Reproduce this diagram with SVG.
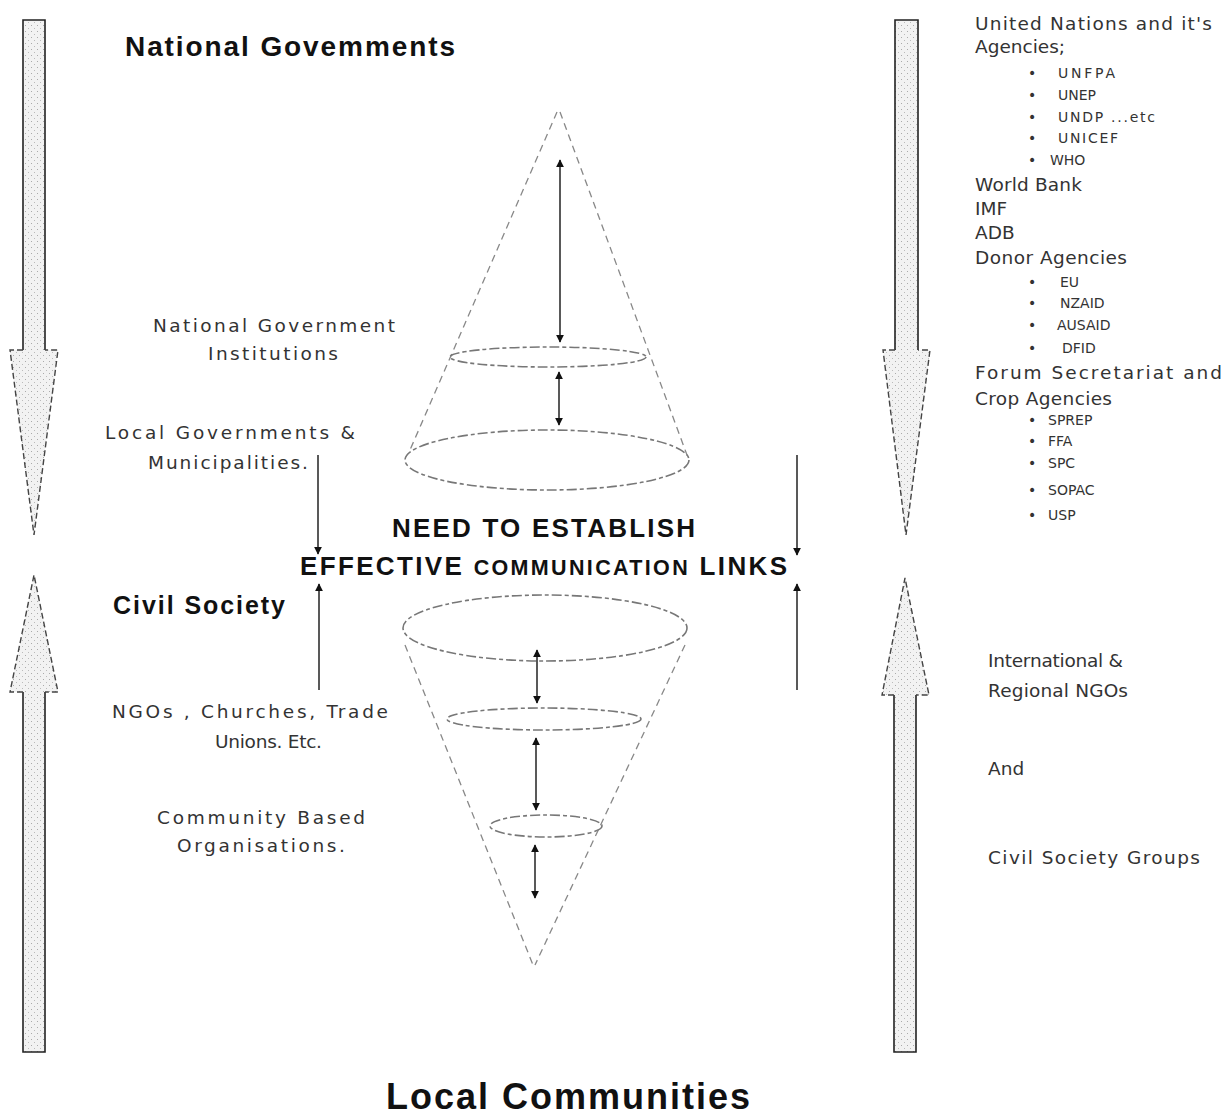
<svg xmlns="http://www.w3.org/2000/svg" width="1226" height="1120" viewBox="0 0 1226 1120">
<style>
  .bg{fill:#ffffff}
  .big{font-family:"Liberation Sans",Arial,sans-serif;font-weight:bold;fill:#111}
  .txt{font-family:"DejaVu Sans",Verdana,sans-serif;fill:#333;font-size:18.5px}
  .sm{font-family:"DejaVu Sans",Verdana,sans-serif;fill:#333;font-size:14px}
  .fat{fill:none;stroke:#222;stroke-width:1.6}
  .head{fill:url(#stipple);stroke:#444;stroke-width:1.4;stroke-dasharray:6 3}
  .cone{fill:none;stroke:#888;stroke-width:1.3;stroke-dasharray:7 5}
  .ring{fill:none;stroke:#777;stroke-width:1.6;stroke-dasharray:10 3 4 3}
  .link{stroke:#222;stroke-width:1.5;fill:none}
</style>
<defs>
  <pattern id="stipple" width="6" height="6" patternUnits="userSpaceOnUse">
    <rect width="6" height="6" fill="#f2f2f2"/>
    <rect x="1" y="1" width="1" height="1" fill="#aaa"/>
    <rect x="4" y="4" width="1" height="1" fill="#bbb"/>
  </pattern>
  <marker id="ah" viewBox="0 0 10 10" refX="9" refY="5" markerWidth="8" markerHeight="8" orient="auto-start-reverse" markerUnits="userSpaceOnUse">
    <path d="M0,0 L10,5 L0,10 Z" fill="#111"/>
  </marker>
</defs>
<rect class="bg" width="1226" height="1120"/>

<g id="arrow-left-down">
  <rect x="23" y="20" width="22" height="330" fill="url(#stipple)"/>
  <path class="fat" d="M23,350 V20 H45 V350"/>
  <path class="head" d="M23,350 H10 L34,535 L58,350 H45"/>
</g>
<g id="arrow-left-up">
  <rect x="23" y="692" width="22" height="360" fill="url(#stipple)"/>
  <path class="fat" d="M23,692 V1052 H45 V692"/>
  <path class="head" d="M23,692 H10 L34,575 L58,692 H45"/>
</g>
<g id="arrow-right-down">
  <rect x="895" y="20" width="23" height="330" fill="url(#stipple)"/>
  <path class="fat" d="M895,350 V20 H918 V350"/>
  <path class="head" d="M895,350 H883 L906,535 L930,350 H918"/>
</g>
<g id="arrow-right-up">
  <rect x="894" y="695" width="22" height="357" fill="url(#stipple)"/>
  <path class="fat" d="M894,695 V1052 H916 V695"/>
  <path class="head" d="M894,695 H882 L905,578 L929,695 H916"/>
</g>

<g id="cone-top">
  <line class="cone" x1="557" y1="112" x2="410" y2="450"/>
  <line class="cone" x1="560" y1="112" x2="687" y2="455"/>
  <ellipse class="ring" cx="548" cy="357" rx="98" ry="10"/>
  <ellipse class="ring" cx="547" cy="460" rx="142" ry="30"/>
</g>
<g id="cone-bottom">
  <ellipse class="ring" cx="545" cy="628" rx="142" ry="33"/>
  <ellipse class="ring" cx="544" cy="719" rx="97" ry="11"/>
  <ellipse class="ring" cx="546" cy="826" rx="56" ry="11"/>
  <line class="cone" x1="405" y1="645" x2="533" y2="965"/>
  <line class="cone" x1="685" y1="645" x2="535" y2="965"/>
</g>

<g id="connectors">
  <line class="link" x1="560" y1="160" x2="560" y2="342" marker-start="url(#ah)" marker-end="url(#ah)"/>
  <line class="link" x1="559" y1="372" x2="559" y2="425" marker-start="url(#ah)" marker-end="url(#ah)"/>
  <line class="link" x1="537" y1="650" x2="537" y2="703" marker-start="url(#ah)" marker-end="url(#ah)"/>
  <line class="link" x1="536" y1="738" x2="536" y2="810" marker-start="url(#ah)" marker-end="url(#ah)"/>
  <line class="link" x1="535" y1="845" x2="535" y2="898" marker-start="url(#ah)" marker-end="url(#ah)"/>
  <line class="link" x1="318" y1="455" x2="318" y2="554" marker-end="url(#ah)"/>
  <line class="link" x1="319" y1="690" x2="319" y2="584" marker-end="url(#ah)"/>
  <line class="link" x1="797" y1="455" x2="797" y2="555" marker-end="url(#ah)"/>
  <line class="link" x1="797" y1="690" x2="797" y2="584" marker-end="url(#ah)"/>
</g>

<g id="title-national">
  <text class="big" x="125" y="56" font-size="28" textLength="330" lengthAdjust="spacing">National Govemments</text>
</g>
<g id="title-local">
  <text class="big" x="386" y="1109" font-size="36" textLength="364" lengthAdjust="spacing">Local Communities</text>
</g>
<g id="central-message">
  <text class="big" x="392" y="537" font-size="26" textLength="303" lengthAdjust="spacing">NEED TO ESTABLISH</text>
  <text class="big" x="300" y="575" font-size="26" textLength="487" lengthAdjust="spacing">EFFECTIVE <tspan font-size="21.5">COMMUNICATION</tspan> LINKS</text>
</g>
<g id="label-national-institutions">
  <text class="txt" x="153" y="332" textLength="242" lengthAdjust="spacing">National Government</text>
  <text class="txt" x="208" y="360" textLength="130" lengthAdjust="spacing">Institutions</text>
</g>
<g id="label-local-gov">
  <text class="txt" x="105" y="439" textLength="250" lengthAdjust="spacing">Local Governments &amp;</text>
  <text class="txt" x="148" y="469" textLength="160" lengthAdjust="spacing">Municipalities.</text>
</g>
<g id="label-civil-society">
  <text class="big" x="113" y="614" font-size="25" textLength="172" lengthAdjust="spacing">Civil Society</text>
</g>
<g id="label-ngos">
  <text class="txt" x="112" y="718" textLength="276" lengthAdjust="spacing">NGOs , Churches, Trade</text>
  <text class="txt" x="215" y="748" textLength="107" lengthAdjust="spacing">Unions. Etc.</text>
</g>
<g id="label-cbo">
  <text class="txt" x="157" y="824" textLength="208" lengthAdjust="spacing">Community Based</text>
  <text class="txt" x="177" y="852" textLength="168" lengthAdjust="spacing">Organisations.</text>
</g>
<g id="list-international">
  <text class="txt" x="975" y="30" textLength="237" lengthAdjust="spacing">United Nations and it's</text>
  <text class="txt" x="975" y="53" textLength="90" lengthAdjust="spacing">Agencies;</text>
  <g class="sm">
    <text x="1028" y="78">•</text><text x="1058" y="78" textLength="57" lengthAdjust="spacing">UNFPA</text>
    <text x="1028" y="100">•</text><text x="1058" y="100">UNEP</text>
    <text x="1028" y="122">•</text><text x="1058" y="122" textLength="97" lengthAdjust="spacing">UNDP ...etc</text>
    <text x="1028" y="143">•</text><text x="1058" y="143" textLength="60" lengthAdjust="spacing">UNICEF</text>
    <text x="1028" y="165">•</text><text x="1050" y="165">WHO</text>
  </g>
  <text class="txt" x="975" y="191" textLength="107" lengthAdjust="spacing">World Bank</text>
  <text class="txt" x="975" y="215">IMF</text>
  <text class="txt" x="975" y="239">ADB</text>
  <text class="txt" x="975" y="264" textLength="152" lengthAdjust="spacing">Donor Agencies</text>
  <g class="sm">
    <text x="1028" y="287">•</text><text x="1060" y="287">EU</text>
    <text x="1028" y="308">•</text><text x="1060" y="308">NZAID</text>
    <text x="1028" y="330">•</text><text x="1057" y="330">AUSAID</text>
    <text x="1028" y="353">•</text><text x="1062" y="353">DFID</text>
  </g>
  <text class="txt" x="975" y="379" textLength="247" lengthAdjust="spacing">Forum Secretariat  and</text>
  <text class="txt" x="975" y="405" textLength="137" lengthAdjust="spacing">Crop Agencies</text>
  <g class="sm">
    <text x="1028" y="425">•</text><text x="1048" y="425">SPREP</text>
    <text x="1028" y="446">•</text><text x="1048" y="446">FFA</text>
    <text x="1028" y="468">•</text><text x="1048" y="468">SPC</text>
    <text x="1028" y="495">•</text><text x="1048" y="495">SOPAC</text>
    <text x="1028" y="520">•</text><text x="1048" y="520">USP</text>
  </g>
</g>
<g id="list-ngos">
  <text class="txt" x="988" y="667" textLength="135" lengthAdjust="spacing">International &amp;</text>
  <text class="txt" x="988" y="697" textLength="140" lengthAdjust="spacing">Regional NGOs</text>
  <text class="txt" x="988" y="775">And</text>
  <text class="txt" x="988" y="864" textLength="212" lengthAdjust="spacing">Civil Society Groups</text>
</g>
</svg>
